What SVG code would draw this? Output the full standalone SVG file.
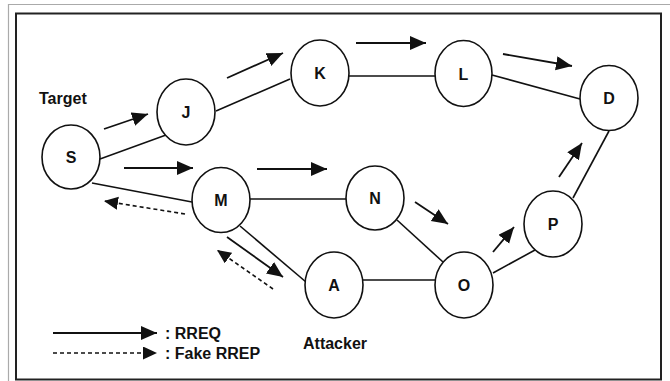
<svg xmlns="http://www.w3.org/2000/svg" width="670" height="381" viewBox="0 0 670 381">
<style>
.node ellipse{fill:#fff;stroke:#111;stroke-width:1.6}
.node text{font-family:"Liberation Sans",Arial,sans-serif;font-weight:bold;font-size:16px;fill:#111;text-anchor:middle}
.edge{stroke:#111;stroke-width:1.6;fill:none}
.arr{stroke:#111;stroke-width:1.8;fill:none;marker-end:url(#ah)}
.darr{stroke:#111;stroke-width:1.6;fill:none;stroke-dasharray:4 3;marker-end:url(#ahd)}
.lbl{font-family:"Liberation Sans",Arial,sans-serif;font-weight:bold;font-size:16px;fill:#111}
</style>
<defs>
<marker id="ah" markerUnits="userSpaceOnUse" markerWidth="17" markerHeight="15" refX="16" refY="7" orient="auto"><path d="M0,0 L16,7 L0,14 z" fill="#111"/></marker>
<marker id="ahd" markerUnits="userSpaceOnUse" markerWidth="15" markerHeight="14" refX="14" refY="6.5" orient="auto"><path d="M0,0 L14,6.5 L0,13 z" fill="#111"/></marker>
</defs>
<rect width="670" height="381" fill="#fff"/>
<path d="M8.5,381 V4.5 H670" fill="none" stroke="#aaa" stroke-width="1.2"/>
<rect x="16" y="13.5" width="645" height="366" fill="none" stroke="#222" stroke-width="2"/>
<g id="connectors">
<line class="edge" x1="100" y1="159" x2="166" y2="135"/>
<line class="edge" x1="216" y1="111" x2="290" y2="79"/>
<line class="edge" x1="349" y1="76" x2="435" y2="76"/>
<line class="edge" x1="492" y1="75" x2="580" y2="99"/>
<line class="edge" x1="92" y1="183" x2="192" y2="202"/>
<line class="edge" x1="250" y1="199" x2="346" y2="199"/>
<line class="edge" x1="240" y1="226" x2="306" y2="282"/>
<line class="edge" x1="397" y1="220" x2="443" y2="262"/>
<line class="edge" x1="363" y1="280" x2="435" y2="280"/>
<line class="edge" x1="493" y1="273" x2="535" y2="250"/>
<line class="edge" x1="573" y1="198" x2="609" y2="131"/>
<line class="arr" x1="104" y1="129" x2="148" y2="114"/>
<line class="arr" x1="227" y1="78" x2="283" y2="53"/>
<line class="arr" x1="356" y1="43" x2="426" y2="43"/>
<line class="arr" x1="503" y1="54" x2="572" y2="66"/>
<line class="arr" x1="124" y1="168" x2="193" y2="168"/>
<line class="arr" x1="257" y1="169" x2="327" y2="169"/>
<line class="arr" x1="415" y1="202" x2="448" y2="224"/>
<line class="arr" x1="493" y1="252" x2="514" y2="227"/>
<line class="arr" x1="559" y1="177" x2="582" y2="143"/>
<line class="arr" x1="227" y1="237" x2="283" y2="277"/>
<line class="darr" x1="273" y1="289" x2="217" y2="250"/>
<line class="darr" x1="185" y1="214" x2="104" y2="201"/>
</g>
<g id="S" class="node"><ellipse cx="71" cy="157" rx="29" ry="32"/><text x="71" y="163">S</text></g>
<g id="J" class="node"><ellipse cx="186" cy="112" rx="29" ry="33"/><text x="186" y="118">J</text></g>
<g id="K" class="node"><ellipse cx="320" cy="73" rx="29" ry="33"/><text x="320" y="79">K</text></g>
<g id="L" class="node"><ellipse cx="463.5" cy="73.5" rx="28.5" ry="33"/><text x="463.5" y="79.5">L</text></g>
<g id="D" class="node"><ellipse cx="609" cy="98" rx="29" ry="32.5"/><text x="609" y="104">D</text></g>
<g id="M" class="node"><ellipse cx="221" cy="200" rx="29" ry="32.5"/><text x="221" y="206">M</text></g>
<g id="N" class="node"><ellipse cx="375" cy="198" rx="29" ry="32"/><text x="375" y="204">N</text></g>
<g id="A" class="node"><ellipse cx="334" cy="285" rx="29" ry="33"/><text x="334" y="291">A</text></g>
<g id="O" class="node"><ellipse cx="464" cy="285" rx="29" ry="33"/><text x="464" y="291">O</text></g>
<g id="P" class="node"><ellipse cx="553" cy="224" rx="29" ry="33"/><text x="553" y="230">P</text></g>
<text class="lbl" x="39" y="104" font-size="17">Target</text>
<text class="lbl" x="303" y="349" font-size="17">Attacker</text>
<g id="legend">
<line class="arr" x1="53" y1="333" x2="157" y2="333"/>
<line class="darr" x1="53" y1="353" x2="157" y2="353"/>
<text class="lbl" x="165" y="339">: RREQ</text>
<text class="lbl" x="165" y="359">: Fake RREP</text>
</g>
</svg>
